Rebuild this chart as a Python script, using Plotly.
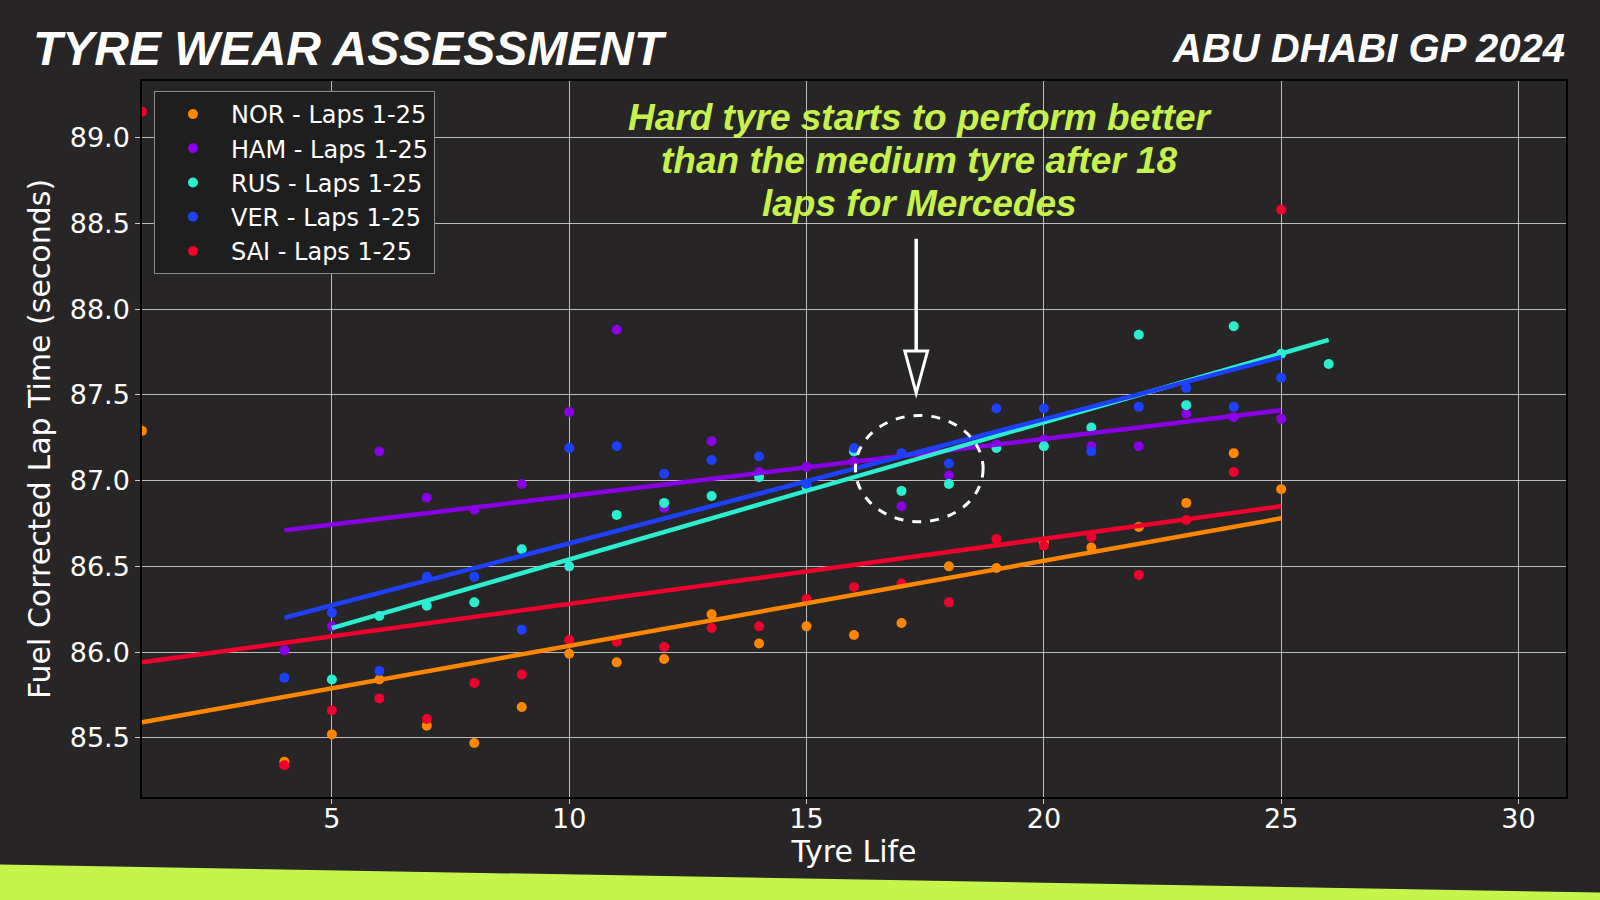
import plotly.graph_objects as go

# tyre life (laps) and fuel corrected lap times per driver
nor_life = [1, 4, 5, 6, 7, 8, 9, 10, 11, 12, 13, 14, 15, 16, 17, 18, 19, 20, 21, 22, 23, 24, 25]
nor_time = [87.29, 85.36, 85.52, 85.84, 85.57, 85.47, 85.68, 85.99, 85.94, 85.96, 86.22, 86.05,
            86.15, 86.10, 86.17, 86.50, 86.49, 86.64, 86.61, 86.73, 86.87, 87.16, 86.95]

ham_life = [4, 5, 6, 7, 8, 9, 10, 11, 12, 13, 14, 15, 16, 17, 18, 19, 20, 21, 22, 23, 24, 25]
ham_time = [86.01, 86.15, 87.17, 86.90, 86.83, 86.98, 87.40, 87.88, 86.84, 87.23, 87.05, 87.08,
            87.11, 86.85, 87.03, 87.21, 87.24, 87.20, 87.20, 87.39, 87.37, 87.36]

rus_life = [5, 6, 7, 8, 9, 10, 11, 12, 13, 14, 15, 16, 17, 18, 19, 20, 21, 22, 23, 24, 25, 26]
rus_time = [85.84, 86.21, 86.27, 86.29, 86.60, 86.50, 86.80, 86.87, 86.91, 87.02, 86.96, 87.17,
            86.94, 86.98, 87.19, 87.20, 87.31, 87.85, 87.44, 87.90, 87.74, 87.68]

ver_life = [4, 5, 6, 7, 8, 9, 10, 11, 12, 13, 14, 15, 16, 17, 18, 19, 20, 21, 22, 23, 24, 25]
ver_time = [85.85, 86.23, 85.89, 86.44, 86.44, 86.13, 87.19, 87.20, 87.04, 87.12, 87.14, 86.98,
            87.19, 87.16, 87.10, 87.42, 87.42, 87.17, 87.43, 87.54, 87.43, 87.60]

sai_life = [1, 4, 5, 6, 7, 8, 9, 10, 11, 12, 13, 14, 15, 16, 17, 18, 19, 20, 21, 22, 23, 24, 25]
sai_time = [89.15, 85.34, 85.66, 85.73, 85.61, 85.82, 85.87, 86.07, 86.06, 86.03, 86.14, 86.15,
            86.31, 86.38, 86.40, 86.29, 86.66, 86.62, 86.67, 86.45, 86.77, 87.05, 88.58]

# trend lines (start/end)
nor_trend_x = [1, 25]
nor_trend_y = [85.59, 86.78]
ham_trend_x = [4, 25]
ham_trend_y = [86.71, 87.41]
rus_trend_x = [5, 26]
rus_trend_y = [86.14, 87.82]
ver_trend_x = [4, 25]
ver_trend_y = [86.20, 87.72]
sai_trend_x = [1, 25]
sai_trend_y = [85.94, 86.85]

drivers = ["NOR", "HAM", "RUS", "VER", "SAI"]
colors = ["#FF8700", "#8A00E6", "#2DEDD0", "#1E40FF", "#F0002D"]

callout_lines = ["Hard tyre starts to perform better",
                 "than the medium tyre after 18",
                 "laps for Mercedes"]

points = [(nor_life, nor_time), (ham_life, ham_time), (rus_life, rus_time),
          (ver_life, ver_time), (sai_life, sai_time)]
trends = [(nor_trend_x, nor_trend_y), (ham_trend_x, ham_trend_y), (rus_trend_x, rus_trend_y),
          (ver_trend_x, ver_trend_y), (sai_trend_x, sai_trend_y)]

BG = "#272525"
LIME = "#C6F24E"

fig = go.Figure()

for drv, col, (lx, ly) in zip(drivers, colors, points):
    fig.add_trace(go.Scatter(
        x=lx, y=ly, mode="markers",
        name=f"{drv} - Laps 1-25",
        marker=dict(color=col, size=10),
    ))

for drv, col, (tx, ty) in zip(drivers, colors, trends):
    fig.add_trace(go.Scatter(
        x=tx, y=ty, mode="lines",
        line=dict(color=col, width=4.5),
        showlegend=False, hoverinfo="skip",
    ))

tick_font = dict(family="DejaVu Sans", size=27, color="#ffffff")

fig.update_layout(
    width=1600, height=900,
    paper_bgcolor=BG, plot_bgcolor=BG,
    margin=dict(l=142, r=34, t=81, b=103),
    font=dict(family="DejaVu Sans", color="#ffffff"),
    legend=dict(
        x=0.0084, y=0.986, xanchor="left", yanchor="top",
        bgcolor="#1f1e1e", bordercolor="#8a8a8a", borderwidth=1,
        font=dict(family="DejaVu Sans", size=24, color="#ffffff"),
        itemwidth=66,
    ),
    xaxis=dict(
        range=[1, 31], tickvals=[5, 10, 15, 20, 25, 30],
        showgrid=True, gridcolor="rgba(215,215,215,0.85)", gridwidth=1,
        zeroline=False, showline=True, mirror=True, linecolor="#000000", linewidth=1.5,
        ticks="outside", ticklen=5, tickcolor="#cccccc",
        tickfont=tick_font, ticklabelstandoff=-8,
        title=dict(text="Tyre Life", font=dict(family="DejaVu Sans", size=30, color="#ffffff"),
                   standoff=6),
    ),
    yaxis=dict(
        range=[85.155, 89.33], tickvals=[85.5, 86.0, 86.5, 87.0, 87.5, 88.0, 88.5, 89.0],
        tickformat=".1f",
        showgrid=True, gridcolor="rgba(215,215,215,0.85)", gridwidth=1,
        zeroline=False, showline=True, mirror=True, linecolor="#000000", linewidth=1.5,
        ticks="outside", ticklen=5, tickcolor="#cccccc",
        tickfont=tick_font,
        title=dict(text="Fuel Corrected Lap Time (seconds)",
                   font=dict(family="DejaVu Sans", size=30, color="#ffffff"), standoff=10),
    ),
)

# header texts
fig.add_annotation(
    text="TYRE WEAR ASSESSMENT", xref="paper", yref="paper",
    x=-0.078, y=1.0455, xanchor="left", yanchor="middle", showarrow=False,
    font=dict(family="Liberation Sans", size=48, color="#ffffff", weight="bold", style="italic"),
)
fig.add_annotation(
    text="ABU DHABI GP 2024", xref="paper", yref="paper",
    x=1.001, y=1.0455, xanchor="right", yanchor="middle", showarrow=False,
    font=dict(family="Liberation Sans", size=40, color="#ffffff", weight="bold", style="italic"),
)

# callout, one annotation per line
for line_text, ly in zip(callout_lines, [89.12, 88.865, 88.616]):
    fig.add_annotation(
        text=line_text, x=17.38, y=ly, xref="x", yref="y", showarrow=False,
        xanchor="center", yanchor="middle",
        font=dict(family="Liberation Sans", size=37, color=LIME, weight="bold", style="italic"),
    )

# arrow: shaft + hollow head
fig.add_shape(type="line", x0=17.31, x1=17.31, y0=88.41, y1=87.76,
              xref="x", yref="y", line=dict(color="#ffffff", width=3.5))
fig.add_shape(type="path", xref="x", yref="y",
              path="M 17.07 87.756 L 17.55 87.756 L 17.31 87.51 Z",
              fillcolor=BG, line=dict(color="#ffffff", width=3))

# dashed highlight circle
fig.add_shape(type="circle", xref="x", yref="y",
              x0=16.03, x1=18.72, y0=86.76, y1=87.38,
              line=dict(color="#ffffff", width=3, dash="dash"))

# lime stripe at the bottom
fig.add_shape(type="path", xref="paper", yref="paper", layer="above",
              path="M -0.12 -0.0935 L 1.04 -0.134 L 1.04 -0.18 L -0.12 -0.18 Z",
              fillcolor="#C3F54A", line=dict(width=0))

fig.write_html("out.html", config={"displayModeBar": False},
               post_script="document.body.style.margin='0';")
